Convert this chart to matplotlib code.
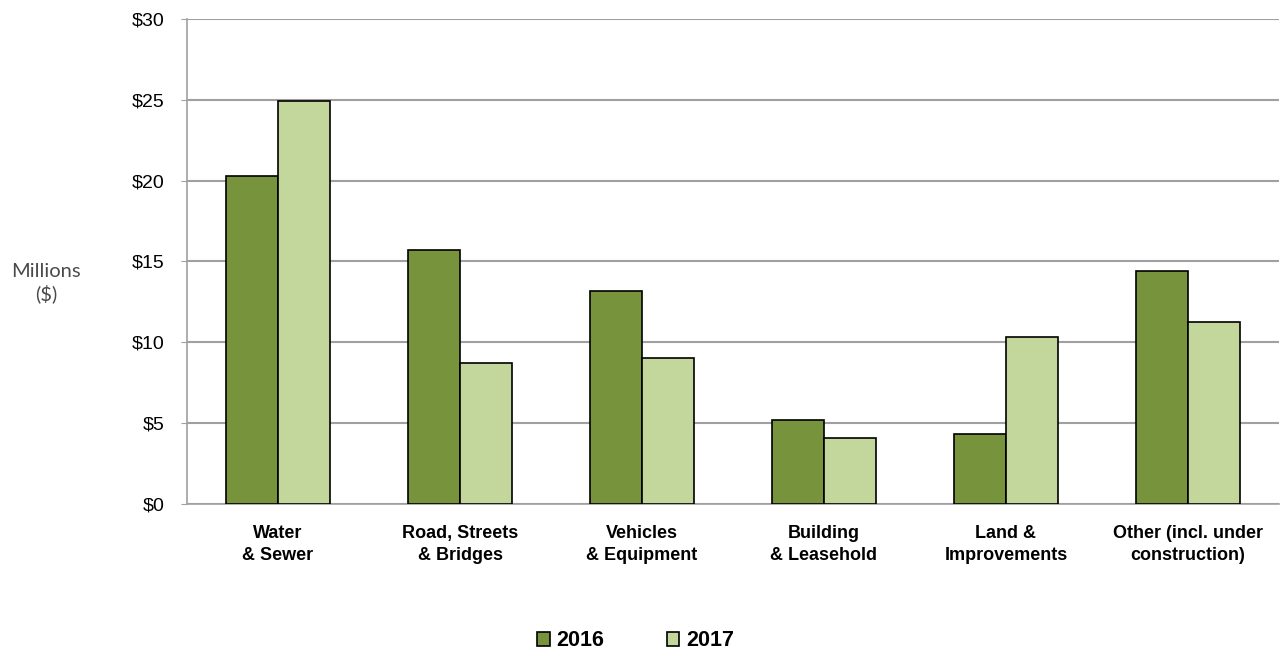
import numpy as np
import matplotlib.pyplot as plt

categories = ['Water\n& Sewer', 'Road, Streets\n& Bridges', 'Vehicles\n& Equipment',
              'Building\n& Leasehold', 'Land &\nImprovements', 'Other (incl. under\nconstruction)']
values_2016 = [20.3, 15.7, 13.2, 5.2, 4.3, 14.4]
values_2017 = [24.9, 8.7, 9.0, 4.1, 10.3, 11.25]
yticks = [0, 5, 10, 15, 20, 25, 30]

plt.rcParams['font.family'] = ['Liberation Sans', 'DejaVu Sans']

fig = plt.figure(figsize=(12.81, 6.54), dpi=100)
ax = fig.add_axes([0.146, 0.2294, 0.8524, 0.7416])

x = np.arange(len(categories))
w = 0.288
ax.bar(x - w / 2, values_2016, w, color='#77933C', edgecolor='black', linewidth=1.2, label='2016', zorder=3)
ax.bar(x + w / 2, values_2017, w, color='#C3D69B', edgecolor='black', linewidth=1.2, label='2017', zorder=3)

ax.set_xlim(-0.5, len(categories) - 0.5)
ax.set_ylim(0, 30)
ax.set_yticks(yticks)
ax.set_yticklabels(['$%d' % v for v in yticks], fontsize=14)
ax.set_xticks(x)
ax.set_xticklabels(categories, fontsize=13, fontweight='bold', linespacing=1.42)
ax.tick_params(axis='x', length=0, pad=15)
ax.tick_params(axis='y', length=4, color='#A0A0A0', pad=12)

ax.grid(axis='y', color='#A0A0A0', linewidth=1.5, zorder=0)
for s in ['top', 'right']:
    ax.spines[s].set_visible(False)
for s in ['left', 'bottom']:
    ax.spines[s].set_color('#A0A0A0')
    ax.spines[s].set_linewidth(1.2)

fig.text(0.036, 0.567, 'Millions\n($)', ha='center', va='center', fontsize=14.5,
         color='#4A4A4A', family=['Lato', 'DejaVu Sans'], linespacing=1.3)

leg = fig.legend(loc='center', bbox_to_anchor=(0.496, 0.02), ncol=2, frameon=False,
                 prop={'weight': 'bold', 'size': 15.5}, handlelength=0.6, handleheight=0.6,
                 handletextpad=0.3, columnspacing=2.9)

fig.savefig('out.png', dpi=100)
